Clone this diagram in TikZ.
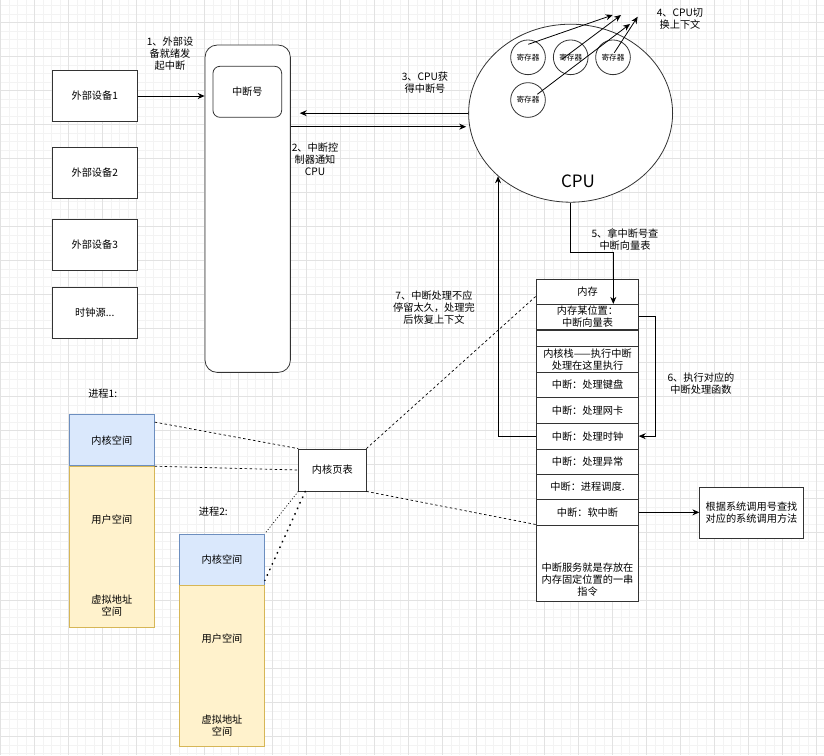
\documentclass[tikz,border=0pt]{standalone}
\usepackage{fontspec}
\setmainfont{Noto Sans CJK SC}
\usetikzlibrary{arrows.meta,shapes.geometric}
\definecolor{GridMajor}{HTML}{E2E2E2}
\definecolor{GridMinor}{HTML}{F3F3F3}
\definecolor{KernFill}{HTML}{DAE8FC}
\definecolor{KernLine}{HTML}{6C8EBF}
\definecolor{UserFill}{HTML}{FFF2CC}
\definecolor{UserLine}{HTML}{D6B656}
\definecolor{BoxLine}{HTML}{333333}

\begin{document}
\begin{tikzpicture}[
    x=1pt, y=-1pt,
    >={Stealth[length=7pt,width=6pt]},
    every node/.style={font=\fontsize{10.2pt}{12pt}\selectfont, align=center, inner sep=0pt},
    box/.style={draw=BoxLine, line width=0.8pt, fill=white},
    devbox/.style={box, minimum width=85pt, minimum height=51pt},
    reg/.style={circle, draw=BoxLine, line width=0.8pt, fill=white, minimum size=34.7pt, font=\fontsize{7.6pt}{9pt}\selectfont},
    kern/.style={draw=KernLine, line width=0.8pt, fill=KernFill, minimum width=85pt, minimum height=51pt},
    user/.style={draw=UserLine, line width=0.8pt, fill=UserFill, minimum width=85pt, minimum height=161pt},
    link/.style={draw=black, line width=0.8pt},
    dashlink/.style={line width=0.7pt, dash pattern=on 2.5pt off 2.5pt},
    dotlink/.style={line width=0.7pt, dash pattern=on 1pt off 2pt},
    bigdots/.style={line width=1.6pt, line cap=round, dash pattern=on 0.6pt off 5.5pt}
 ]
\def\xMax{824}
\def\yMax{755}

\useasboundingbox (0,0) rectangle (\xMax,\yMax);
\fill[white] (0,0) rectangle (\xMax,\yMax);
    \foreach \i in {0.3,8.8,...,\xMax} {
        \draw [GridMinor, line width=0.6pt] (\i,0) -- (\i,\yMax);
    }
    \foreach \i in {5.5,14,...,\yMax} {
        \draw [GridMinor, line width=0.6pt] (0,\i) -- (\xMax,\i);
    }
    \foreach \i in {0.3,34.3,...,\xMax} {
        \draw [GridMajor, line width=0.7pt] (\i,0) -- (\i,\yMax);
    }
    \foreach \i in {22.5,56.5,...,\yMax} {
        \draw [GridMajor, line width=0.7pt] (0,\i) -- (\xMax,\i);
    }

% devices and controller
\node[devbox] (dev1) at (94.8,96) {外部设备1};
\node[devbox] (dev2) at (94.8,172.8) {外部设备2};
\node[devbox] (dev3) at (94.8,245) {外部设备3};
\node[devbox] (clk) at (94.8,313) {时钟源...};
\node[box, rounded corners=12pt, minimum width=85.3pt, minimum height=327.3pt] (ctrl) at (247.7,208.7) {};
\node[box, rounded corners=7pt, minimum width=68.7pt, minimum height=51pt] (irq) at (247.3,91.8) {中断号};

% cpu
\node[ellipse, draw=BoxLine, line width=0.8pt, fill=white, minimum width=204pt, minimum height=178pt] (cpu) at (570.6,113.2) {};
\node[font=\fontsize{17pt}{20pt}\selectfont] (cpulbl) at (578,181) {CPU};
\node[reg] (r1) at (528,57.3) {寄存器};
\node[reg] (r2) at (570.7,57.3) {寄存器};
\node[reg] (r3) at (613,57.3) {寄存器};
\node[reg] (r4) at (528,100) {寄存器};
\coordinate (t1) at (612.7,15);
\coordinate (t2) at (621,15);
\coordinate (t3) at (630,24);
\coordinate (t4) at (637.7,16.7);
\draw[link,->] ([shift={(0.3,-13)}]r1.center) -- (t1);
\draw[link,->] ([shift={(-8.7,2)}]r2.center) -- (t2);
\draw[link,->] ([shift={(9.3,-5.7)}]r4.center) -- (t3);
\draw[link,->] ([shift={(1.3,-4.6)}]r3.center) -- (t4);

% memory
\foreach \name/\top/\bot/\txt in {
    m0/279/304.3/内存,
    m1/304.3/329.3/{内存某位置：\\中断向量表},
    m2/330.7/346.7/{},
    m3/346.7/372.3/{内核栈——执行中断\\处理在这里执行},
    m4/372.3/397.7/中断：处理键盘,
    m5/397.7/423.3/中断：处理网卡,
    m6/423.3/449/中断：处理时钟,
    m7/449/474.3/中断：处理异常,
    m8/474.3/499.7/中断：进程调度.,
    m9/499.7/525/中断：软中断,
    m10/525/601.7/{}} {
    \pgfmathsetmacro\hgt{\bot-\top}
    \pgfmathsetmacro\yc{(\top+\bot)/2}
    \node[box, minimum width=101.6pt, minimum height=\hgt pt] (\name) at (587.5,\yc) {\txt};
}
\node (m10txt) at (587.5,579.3) {中断服务就是存放在\\内存固定位置的一串\\指令};

\node[box, minimum width=67.3pt, minimum height=42pt] (pgt) at (332.3,470) {内核页表};
\node[box, minimum width=103.5pt, minimum height=50.6pt] (sys) at (751.5,513) {根据系统调用号查找\\对应的系统调用方法};

% processes
\node (p1lbl) at (102.7,393.3) {进程1:};
\node[kern] (p1k) at (111.8,440.3) {内核空间};
\node[user] (p1u) at (111.8,546.5) {};
\node (p1utxt) at (111.8,520) {用户空间};
\node (p1vtxt) at (111.8,605.3) {虚拟地址\\空间};
\node (p2lbl) at (213.3,511.7) {进程2:};
\node[kern] (p2k) at (222,559.5) {内核空间};
\node[user] (p2u) at (222,665.5) {};
\node (p2utxt) at (222,638.3) {用户空间};
\node (p2vtxt) at (222,725.3) {虚拟地址\\空间};

% labels
\node (lb1) at (170,53.3) {1、外部设\\备就绪发\\起中断};
\node (lb2) at (315,159) {2、中断控\\制器通知\\CPU};
\node (lb3) at (425,83) {3、CPU获\\得中断号};
\node (lb4) at (680,19) {4、CPU切\\换上下文};
\node (lb5) at (625,240) {5、拿中断号查\\中断向量表};
\node (lb6) at (701,384) {6、执行对应的\\中断处理函数};
\node (lb7) at (434,307.7) {7、中断处理不应\\停留太久，处理完\\后恢复上下文};

% arrows
\draw[link,->] (dev1.east) -- (dev1 -| ctrl.west);
\draw[link,->,shorten >=9pt] (cpu.west) -- (cpu.west -| ctrl.east);
\coordinate (y2) at (0,126.7);
\draw[link,->,shorten >=2pt] (ctrl.east |- y2) -- (cpu.west |- y2);
\coordinate (c5) at (613.3,252.5);
\draw[link,->] (cpu.south) |- (c5) -- (c5 |- m1.north);
\draw[link,->] (m1.east) -- ++(16.7,0) |- (m6.east);
\draw[link,->] (m6.west) -| (cpu.221);
\draw[link,->] (m9.east) -- (sys.west |- m9.east);

% page table links
\coordinate (d1) at (536.7,295.5);
\draw[dashlink] (pgt.north east) -- (d1);
\draw[dashlink] (pgt.south east) -- (m10.north west);
\draw[dashlink] ([yshift=-7.7pt]p1k.north east) -- (pgt.north west);
\draw[dashlink] (p1k.south east) -- (pgt.west);
\draw[dotlink] (pgt.south west) -- (p2k.north east);
\draw[bigdots] ([xshift=7pt]pgt.south west) -- ([yshift=5pt]p2k.south east);

\end{tikzpicture}
\end{document}
